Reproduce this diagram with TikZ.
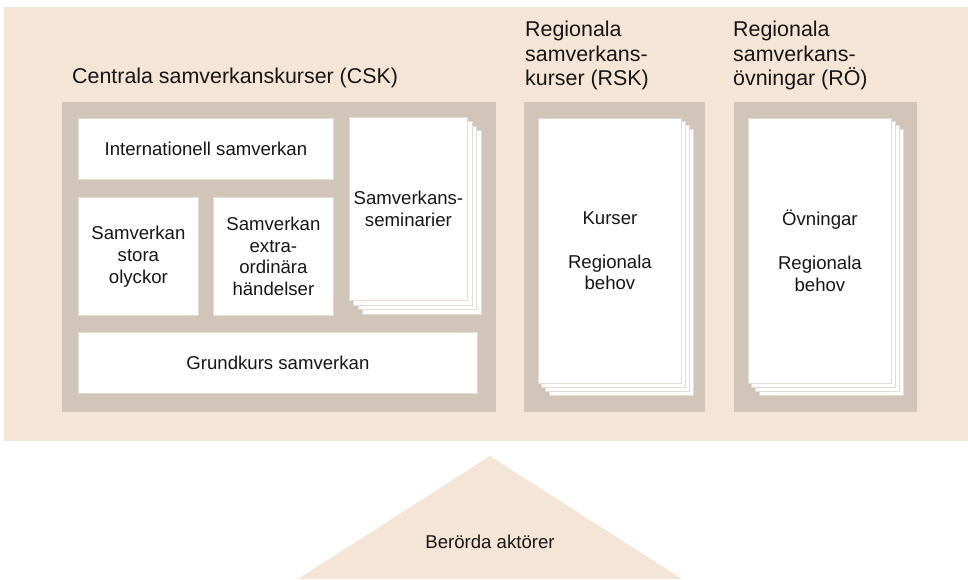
\documentclass[tikz,border=0pt]{standalone}
\usepackage{fontspec}
\setmainfont{Liberation Sans}
\definecolor{peach}{RGB}{245,229,215}
\definecolor{taupe}{RGB}{209,196,184}
\definecolor{pageline}{RGB}{228,220,212}
\definecolor{ink}{RGB}{22,22,22}
\pgfdeclarelayer{bg}
\pgfdeclarelayer{mid}
\pgfsetlayers{bg,mid,main}
\newcommand\stackpages[2]{%
  \begin{pgfonlayer}{mid}
    \foreach \k in {3,2,1}{%
      \filldraw[pagestyle] ([shift={(\k*#2,\k*#2)}]#1.north west) rectangle ([shift={(\k*#2,\k*#2)}]#1.south east);
    }
  \end{pgfonlayer}}
\tikzset{
  bodyfont/.style={font=\fontsize{18.6}{21.8}\selectfont, text=ink},
  headfont/.style={font=\fontsize{21.4}{24.5}\selectfont, text=ink},
  pagestyle/.style={fill=white, draw=pageline, line width=0.8pt},
  whitebox/.style={pagestyle, bodyfont, inner sep=0pt, align=center, anchor=north west},
  greybox/.style={fill=taupe, inner sep=0pt, anchor=north west},
  heading/.style={headfont, inner sep=0pt, align=left, anchor=north west},
}
\begin{document}
\begin{tikzpicture}[x=1pt, y=-1pt]
\useasboundingbox (0,0) rectangle (968,579);
\begin{pgfonlayer}{bg}
  \node[fill=peach, inner sep=0pt, anchor=north west, minimum width=964pt, minimum height=434pt] (field) at (4,7) {};
  \node[greybox, minimum width=434pt, minimum height=310pt] (csk) at (62,102) {};
  \node[greybox, minimum width=181pt, minimum height=310pt] (rsk) at (524,102) {};
  \node[greybox, minimum width=183pt, minimum height=310pt] (ro) at (734,102) {};
\end{pgfonlayer}

% headings
\node[headfont, inner sep=0pt, anchor=base west] (hcsk) at (72,83) {Centrala samverkanskurser (CSK)};
\node[heading] (hrsk) at (525,21) {Regionala\\samverkans-\\kurser (RSK)};
\node[heading] (hro) at (733,21) {Regionala\\samverkans-\\övningar (RÖ)};

% CSK content
\node[whitebox, minimum width=255pt, minimum height=61pt] (intl) at (78,118) {Internationell samverkan};
\node[whitebox, minimum width=120pt, minimum height=118pt] (stora) at (78,197) {Samverkan\\stora\\olyckor};
\node[whitebox, minimum width=120pt, minimum height=118pt] (extra) at (213,197) {Samverkan\\extra-\\ordinära\\händelser};
\node[whitebox, minimum width=118pt, minimum height=183pt] (sem) at (349,117) {Samverkans-\\seminarier};
\stackpages{sem}{4.5}
\node[whitebox, minimum width=399pt, minimum height=61pt] (grund) at (78,332) {Grundkurs samverkan};

% RSK and RÖ content
\node[whitebox, minimum width=143pt, minimum height=265pt] (kurser) at (538,118) {Kurser\\[21.8pt]Regionala\\behov};
\stackpages{kurser}{3.7}
\node[whitebox, minimum width=143pt, minimum height=265pt] (ovn) at (748,118) {Övningar\\[21.8pt]Regionala\\behov};
\stackpages{ovn}{3.7}

% actors triangle
\coordinate (apex) at (490,456);
\coordinate (baseL) at (298,579);
\coordinate (baseR) at (682,579);
\fill[peach] (baseL) -- (apex) -- (baseR) -- cycle;
\node[bodyfont, inner sep=0pt] (actors) at (490,542) {Berörda aktörer};
\end{tikzpicture}
\end{document}
